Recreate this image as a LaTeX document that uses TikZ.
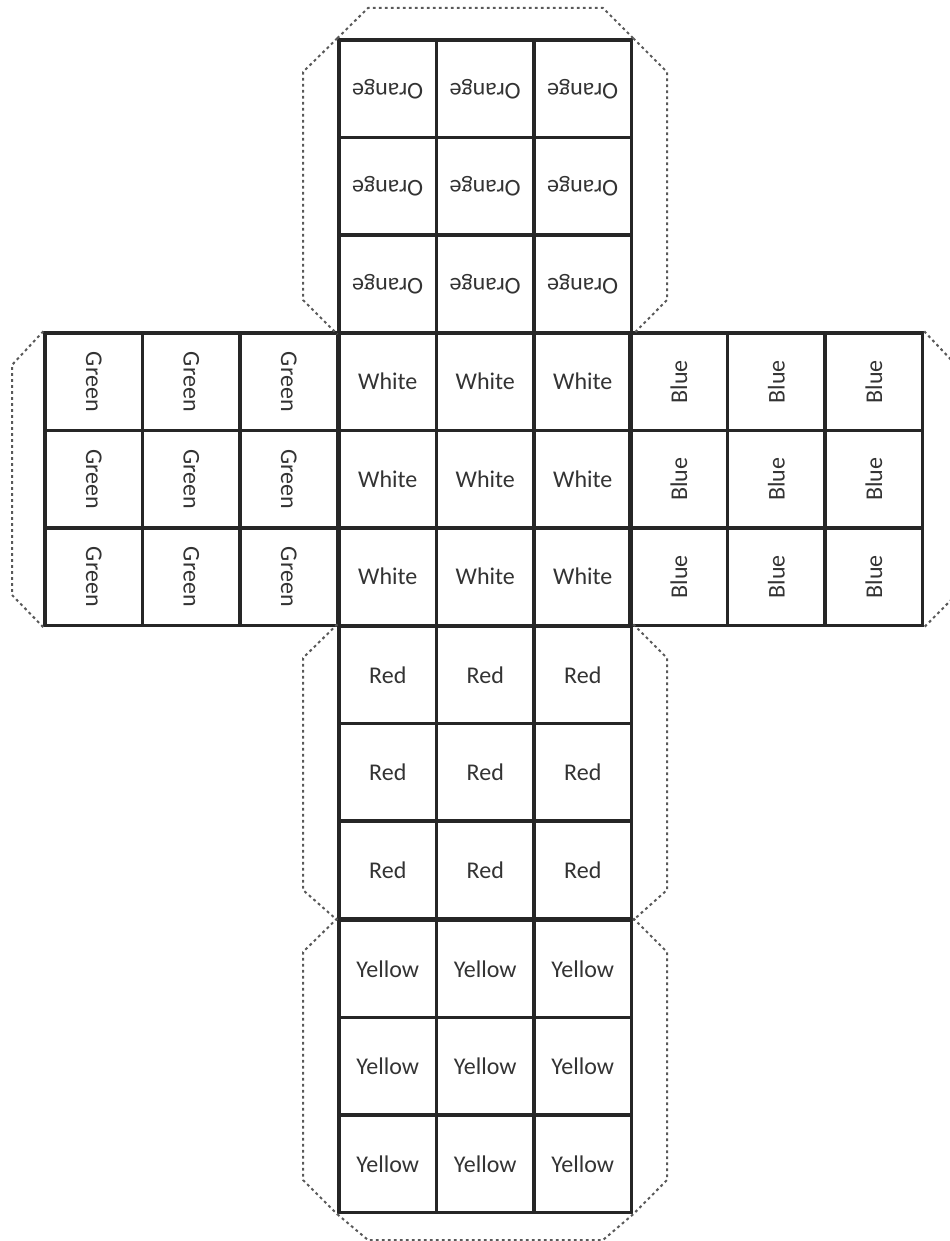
\documentclass[tikz,border=0pt]{standalone}
\usepackage{fontspec}
\setmainfont{Carlito}
\usetikzlibrary{positioning,calc}
\definecolor{netline}{gray}{0.15}
\definecolor{tabline}{gray}{0.35}
\tikzset{
  net/.style={x=0.5pt,y=-0.5pt,font=\fontsize{12}{14}\selectfont},
  cell/.style={draw=netline,line width=1.7pt,minimum size=48.75pt,inner sep=0pt,
               text=black!80},
  tab/.style={draw=tabline,line width=1pt,dash pattern=on 1.4pt off 1.6pt},
}

\begin{document}
\begin{tikzpicture}[net]
\useasboundingbox (0,0) rectangle (949,1241);

% --- the six faces, three by three stickers each
\foreach \f/\fx/\fy/\txt/\rot in {O/339/40/Orange/180, G/45/333/Green/-90,
    W/339/333/White/0, B/630/333/Blue/90, R/339/626/Red/0, Y/339/920/Yellow/0}{
  \foreach \r in {1,2,3}{
    \foreach \c in {1,2,3}{
      \node[cell] (\f\r\c) at ({\fx+(\c-0.5)*97.5},{\fy+(\r-0.5)*97.5})
           {\rotatebox{\rot}{\txt}};
    }
  }
}

% --- glue tabs round the net
\draw[tab] (O11.north west) -- (303,72) -- (303,300) -- (O31.south west);
\draw[tab] (O11.north west) -- (368,8) -- (603,8) -- (O13.north east);
\draw[tab] (O13.north east) -- (667,72) -- (667,300) -- (O33.south east);

\draw[tab] (G11.north west) -- (12,365) -- (12,595) -- (G31.south west);
\draw[tab] (B13.north east) -- (956,365) -- (956,595) -- (B33.south east);

\draw[tab] (R11.north west) -- (303,658) -- (303,890) -- (R31.south west);
\draw[tab] (R13.north east) -- (667,658) -- (667,890) -- (R33.south east);

\draw[tab] (Y11.north west) -- (303,952) -- (303,1180) -- (Y31.south west);
\draw[tab] (Y13.north east) -- (667,952) -- (667,1180) -- (Y33.south east);
\draw[tab] (Y31.south west) -- (368,1240) -- (603,1240) -- (Y33.south east);

\end{tikzpicture}
\end{document}
